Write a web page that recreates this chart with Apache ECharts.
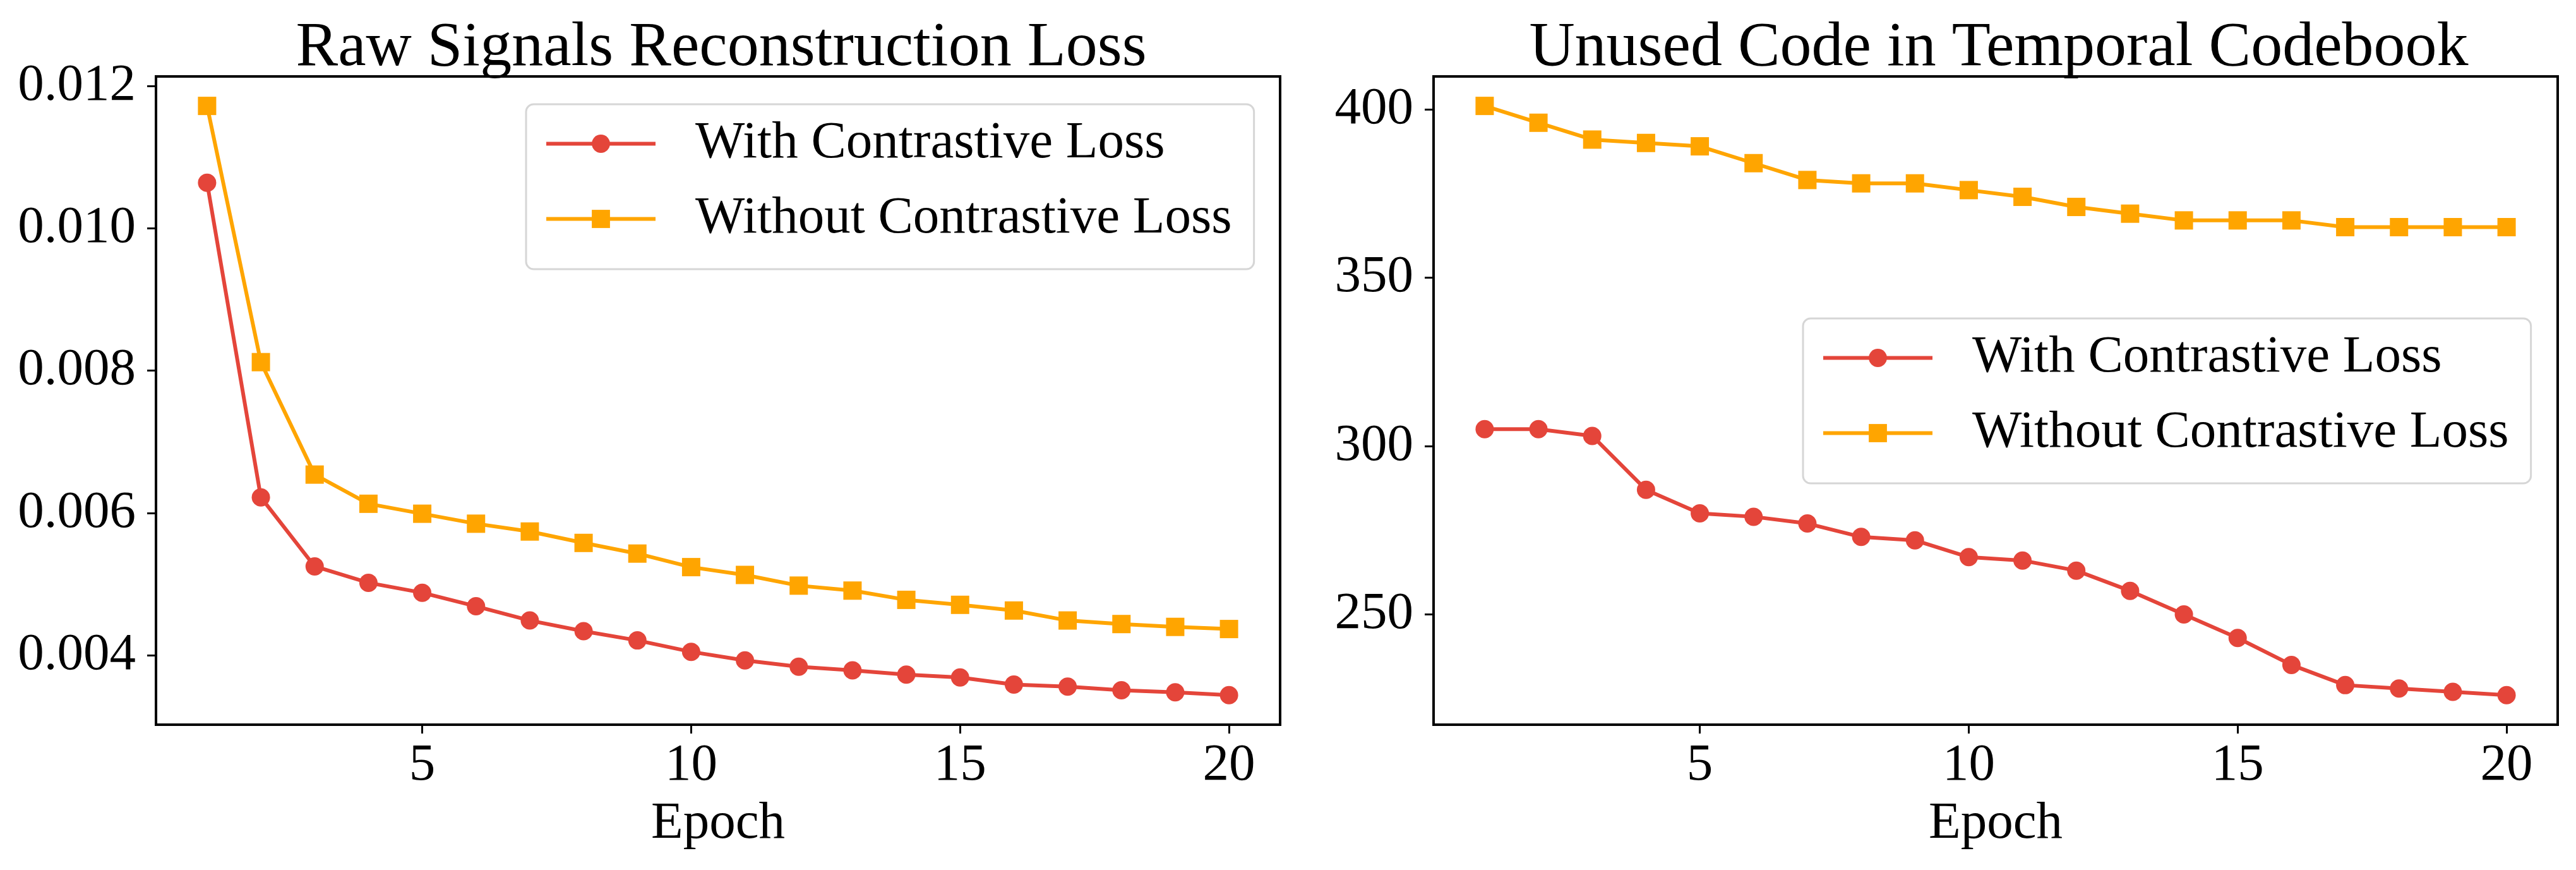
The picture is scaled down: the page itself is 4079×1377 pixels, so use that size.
<!DOCTYPE html>
<html>
<head>
<meta charset="utf-8">
<script src="https://cdn.jsdelivr.net/npm/echarts@6/dist/echarts.min.js"></script>
<style>
  html, body { margin: 0; padding: 0; background: #fff; }
  #main { width: 4079px; height: 1377px; }
</style>
</head>
<body>
<div id="main"></div>
<script>
// data
var epochs = [1, 2, 3, 4, 5, 6, 7, 8, 9, 10, 11, 12, 13, 14, 15, 16, 17, 18, 19, 20];
var reconWith = [0.01064, 0.00622, 0.00525, 0.00502, 0.00488, 0.00469, 0.00449, 0.00434, 0.00421, 0.00405,
                 0.00393, 0.00384, 0.00379, 0.00373, 0.00369, 0.00359, 0.00356, 0.00351, 0.00348, 0.00344];
var reconWithout = [0.01172, 0.00812, 0.00654, 0.00613, 0.00599, 0.00585, 0.00574, 0.00558, 0.00543, 0.00524,
                    0.00513, 0.00498, 0.00491, 0.00478, 0.00471, 0.00463, 0.00449, 0.00444, 0.00440, 0.00437];
var unusedWith = [305, 305, 303, 287, 280, 279, 277, 273, 272, 267, 266, 263, 257, 250, 243, 235, 229, 228, 227, 226];
var unusedWithout = [401, 396, 391, 390, 389, 384, 379, 378, 378, 376, 374, 371, 369, 367, 367, 367, 365, 365, 365, 365];

var epochTicks = [5, 10, 15, 20];
var reconTicks = [0.004, 0.006, 0.008, 0.010, 0.012];
var unusedTicks = [250, 300, 350, 400];

var nameWith = 'With Contrastive Loss';
var nameWithout = 'Without Contrastive Loss';

var RED = '#e4453a';
var ORANGE = '#ffa500';
var FONT = "'Liberation Serif', 'Times New Roman', serif";

// matplotlib-like 5% margins
function padRange(arrs) {
    var all = [].concat.apply([], arrs);
    var lo = Math.min.apply(null, all), hi = Math.max.apply(null, all);
    var m = (hi - lo) * 0.05;
    return [lo - m, hi + m];
}
function pairs(ys) {
    return epochs.map(function (x, i) { return [x, ys[i]]; });
}

var xr = padRange([epochs]);
var yr1 = padRange([reconWith, reconWithout]);
var yr2 = padRange([unusedWith, unusedWithout]);

var myChart = echarts.init(document.getElementById('main'), null, { renderer: 'canvas' });

function xAxisOpt(idx) {
    return {
        gridIndex: idx,
        type: 'value',
        min: xr[0],
        max: xr[1],
        name: 'Epoch',
        nameLocation: 'middle',
        nameGap: 116,
        nameTextStyle: { color: '#000', fontFamily: FONT, fontSize: 83, lineHeight: 83 },
        axisLine: { show: true, lineStyle: { color: '#000', width: 4 } },
        axisTick: { show: true, length: 14, lineStyle: { color: '#000', width: 3 }, customValues: epochTicks },
        axisLabel: { color: '#000', fontFamily: FONT, fontSize: 83, lineHeight: 83, margin: 24, customValues: epochTicks },
        splitLine: { show: false }
    };
}
function yAxisOpt(idx, r, ticks, fmt) {
    return {
        gridIndex: idx,
        type: 'value',
        min: r[0],
        max: r[1],
        axisLine: { show: true, lineStyle: { color: '#000', width: 4 } },
        axisTick: { show: true, length: 14, lineStyle: { color: '#000', width: 3 }, customValues: ticks },
        axisLabel: { color: '#000', fontFamily: FONT, fontSize: 83, margin: 32, customValues: ticks, formatter: fmt },
        splitLine: { show: false }
    };
}
function lineSeries(name, ys, idx, color, symbol) {
    return {
        name: name,
        type: 'line',
        xAxisIndex: idx,
        yAxisIndex: idx,
        data: pairs(ys),
        symbol: symbol,
        symbolSize: 29,
        showAllSymbol: true,
        animation: false,
        itemStyle: { color: color },
        lineStyle: { color: color, width: 6 }
    };
}
function legendOpt(left, top) {
    return {
        left: left,
        top: top,
        orient: 'vertical',
        data: [nameWith, nameWithout],
        itemWidth: 173,
        itemHeight: 36,
        itemGap: 36,
        padding: [21, 35, 38, 29],
        backgroundColor: '#fff',
        borderColor: '#d6d6d6',
        borderWidth: 3,
        borderRadius: 12,
        selectedMode: false,
        lineStyle: { width: 6 },
        textStyle: { color: '#000', fontFamily: FONT, fontSize: 83, lineHeight: 83, padding: [0, 0, 0, 58] }
    };
}

var option = {
    backgroundColor: '#fff',
    animation: false,
    title: [
        {
            text: 'Raw Signals Reconstruction Loss',
            left: 1137, top: 22, textAlign: 'center',
            textStyle: { color: '#000', fontFamily: FONT, fontSize: 100, fontWeight: 'normal', lineHeight: 100 }
        },
        {
            text: 'Unused Code in Temporal Codebook',
            left: 3160, top: 22, textAlign: 'center',
            textStyle: { color: '#000', fontFamily: FONT, fontSize: 100, fontWeight: 'normal', lineHeight: 100 }
        }
    ],
    legend: [legendOpt(833, 165), legendOpt(2855, 504)],
    grid: [
        { left: 247, top: 121, width: 1780, height: 1026, show: true, borderColor: '#000', borderWidth: 4, backgroundColor: 'transparent' },
        { left: 2270, top: 121, width: 1780, height: 1026, show: true, borderColor: '#000', borderWidth: 4, backgroundColor: 'transparent' }
    ],
    xAxis: [xAxisOpt(0), xAxisOpt(1)],
    yAxis: [
        yAxisOpt(0, yr1, reconTicks, function (v) { return v.toFixed(3); }),
        yAxisOpt(1, yr2, unusedTicks, function (v) { return String(Math.round(v)); })
    ],
    series: [
        lineSeries(nameWith, reconWith, 0, RED, 'circle'),
        lineSeries(nameWithout, reconWithout, 0, ORANGE, 'rect'),
        lineSeries(nameWith, unusedWith, 1, RED, 'circle'),
        lineSeries(nameWithout, unusedWithout, 1, ORANGE, 'rect')
    ]
};
myChart.setOption(option);
</script>
</body>
</html>
